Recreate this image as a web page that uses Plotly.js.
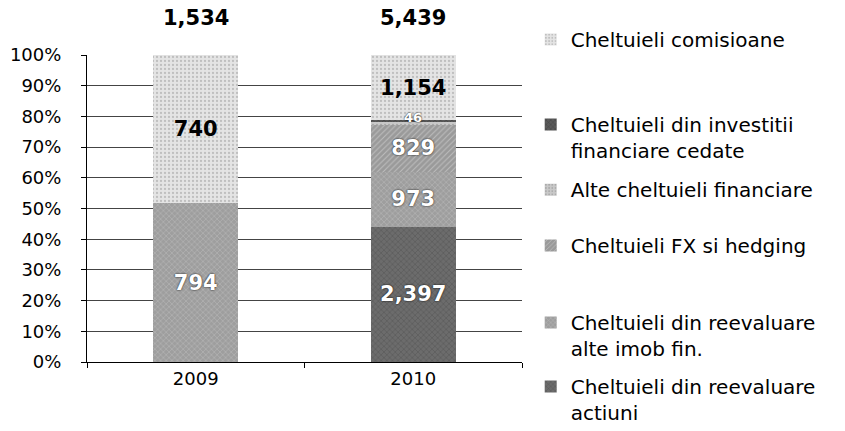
<!DOCTYPE html>
<html>
<head>
<meta charset="utf-8">
<script src="https://cdn.plot.ly/plotly-3.0.1.min.js"></script>
<style>html,body{margin:0;padding:0;background:#fff;}#chart{width:845px;height:431px;}</style>
</head>
<body>
<div id="chart"></div>
<script>
var categories = ["2009", "2010"];
var seriesNames = [
  "Cheltuieli din reevaluare<br>actiuni",
  "Cheltuieli din reevaluare<br>alte imob fin.",
  "Cheltuieli FX si hedging",
  "Alte cheltuieli financiare",
  "Cheltuieli din investitii<br>financiare cedate",
  "Cheltuieli comisioane"
];
var actiuni = [0, 2397];
var alteImob = [794, 973];
var fxHedging = [0, 829];
var alteFinanciare = [0, 46];
var investitiiCedate = [0, 40];
var comisioane = [740, 1154];
var showLabel = [true, true, true, true, false, true];

var seriesValues = [actiuni, alteImob, fxHedging, alteFinanciare, investitiiCedate, comisioane];
var colors = ["#6c6c6c", "#9e9e9e", "#9a9a9a", "#c9c9c9", "#5a5a5a", "#e4e4e4"];
var fg = ["#3a3a3a", "#d8d8d8", "#e0e0e0", "#8a8a8a", "#222222", "#9a9a9a"];
var shapes = ["x", "x", "/", ".", "x", "."];
var darkText = [false, false, false, false, false, true];

// one legend box per series (bottom series first), so the entries can be spaced like the original
var legendIds = ["legend6", "legend5", "legend4", "legend3", "legend2", "legend"];
var legendTops = [-0.016, 0.192, 0.443, 0.625, 0.837, 1.114];

var FONT = "DejaVu Sans, Liberation Sans, sans-serif";
var whiteFont = {family: FONT, size: 21, color: "#fff", weight: "bold", shadow: "0px 0px 2px #000"};
var blackFont = {family: FONT, size: 21, color: "#000", weight: "bold"};
var smallWhiteFont = {family: FONT, size: 13, color: "#fff", weight: "bold", shadow: "0px 0px 2px #000"};
var SMALL_SHARE = 4;

var totals = categories.map(function (c, j) {
  return seriesValues.reduce(function (s, arr) { return s + arr[j]; }, 0);
});

var traces = [];
var smallLabels = [];
seriesValues.forEach(function (vals, i) {
  traces.push({
    type: "bar",
    name: seriesNames[i],
    x: categories,
    y: vals,
    legend: legendIds[i],
    marker: {
      color: colors[i],
      line: {width: 0},
      pattern: {shape: shapes[i], fgcolor: fg[i], bgcolor: colors[i], size: 4, solidity: 0.25, fillmode: "overlay"}
    },
    text: vals.map(function (v, j) {
      return (showLabel[i] && v > 0 && v / totals[j] * 100 >= SMALL_SHARE) ? v.toLocaleString("en-US") : "";
    }),
    textposition: "inside",
    insidetextanchor: "middle",
    textangle: 0,
    textfont: darkText[i] ? blackFont : whiteFont,
    hoverinfo: "x+y+name"
  });
  // segments too thin for Plotly's inside text: place the label at the segment's middle
  vals.forEach(function (v, j) {
    if (!showLabel[i] || v <= 0) return;
    if (v / totals[j] * 100 >= SMALL_SHARE) return;
    var below = 0;
    for (var k = 0; k < i; k++) below += seriesValues[k][j];
    smallLabels.push({
      x: j, y: (below + v / 2) / totals[j] * 100, xref: "x", yref: "y",
      text: "<b>" + v.toLocaleString("en-US") + "</b>",
      showarrow: false, xanchor: "center", yanchor: "middle", yshift: 6,
      font: smallWhiteFont
    });
  });
});

var totalAnnotations = categories.map(function (c, j) {
  return {
    x: j, y: 1, xref: "x", yref: "paper",
    xanchor: "center", yanchor: "middle",
    text: "<b>" + totals[j].toLocaleString("en-US") + "</b>",
    showarrow: false, yshift: 37,
    font: {family: FONT, size: 21, color: "#000000"}
  };
});

var layout = {
  width: 845,
  height: 431,
  margin: {l: 87, r: 323, t: 55, b: 69, autoexpand: false},
  paper_bgcolor: "#fff",
  plot_bgcolor: "#fff",
  barmode: "stack",
  barnorm: "percent",
  bargap: 0.61,
  font: {family: FONT, size: 18, color: "#000"},
  showlegend: true,
  annotations: totalAnnotations.concat(smallLabels),
  xaxis: {
    type: "category",
    range: [-0.5, 1.5],
    showline: true, linecolor: "#000", linewidth: 1,
    ticks: "outside", tickson: "boundaries", ticklen: 5, tickcolor: "#000",
    showgrid: false,
    tickfont: {family: FONT, size: 18, color: "#000"}
  },
  yaxis: {
    range: [0, 100],
    dtick: 10,
    ticksuffix: "%",
    showline: true, linecolor: "#000", linewidth: 1,
    ticks: "outside", ticklen: 5, tickcolor: "#000",
    showgrid: true, gridcolor: "#444", gridwidth: 1,
    zeroline: false,
    ticklabelstandoff: 16,
    tickfont: {family: FONT, size: 18, color: "#000"}
  }
};
legendIds.forEach(function (id, i) {
  layout[id] = {
    x: 1.02, y: legendTops[i], xanchor: "left", yanchor: "top",
    valign: "top",
    font: {family: FONT, size: 20, color: "#000"},
    itemwidth: 30,
    bgcolor: "rgba(0,0,0,0)"
  };
});

Plotly.newPlot("chart", traces, layout, {displayModeBar: false, staticPlot: true});
</script>
</body>
</html>
